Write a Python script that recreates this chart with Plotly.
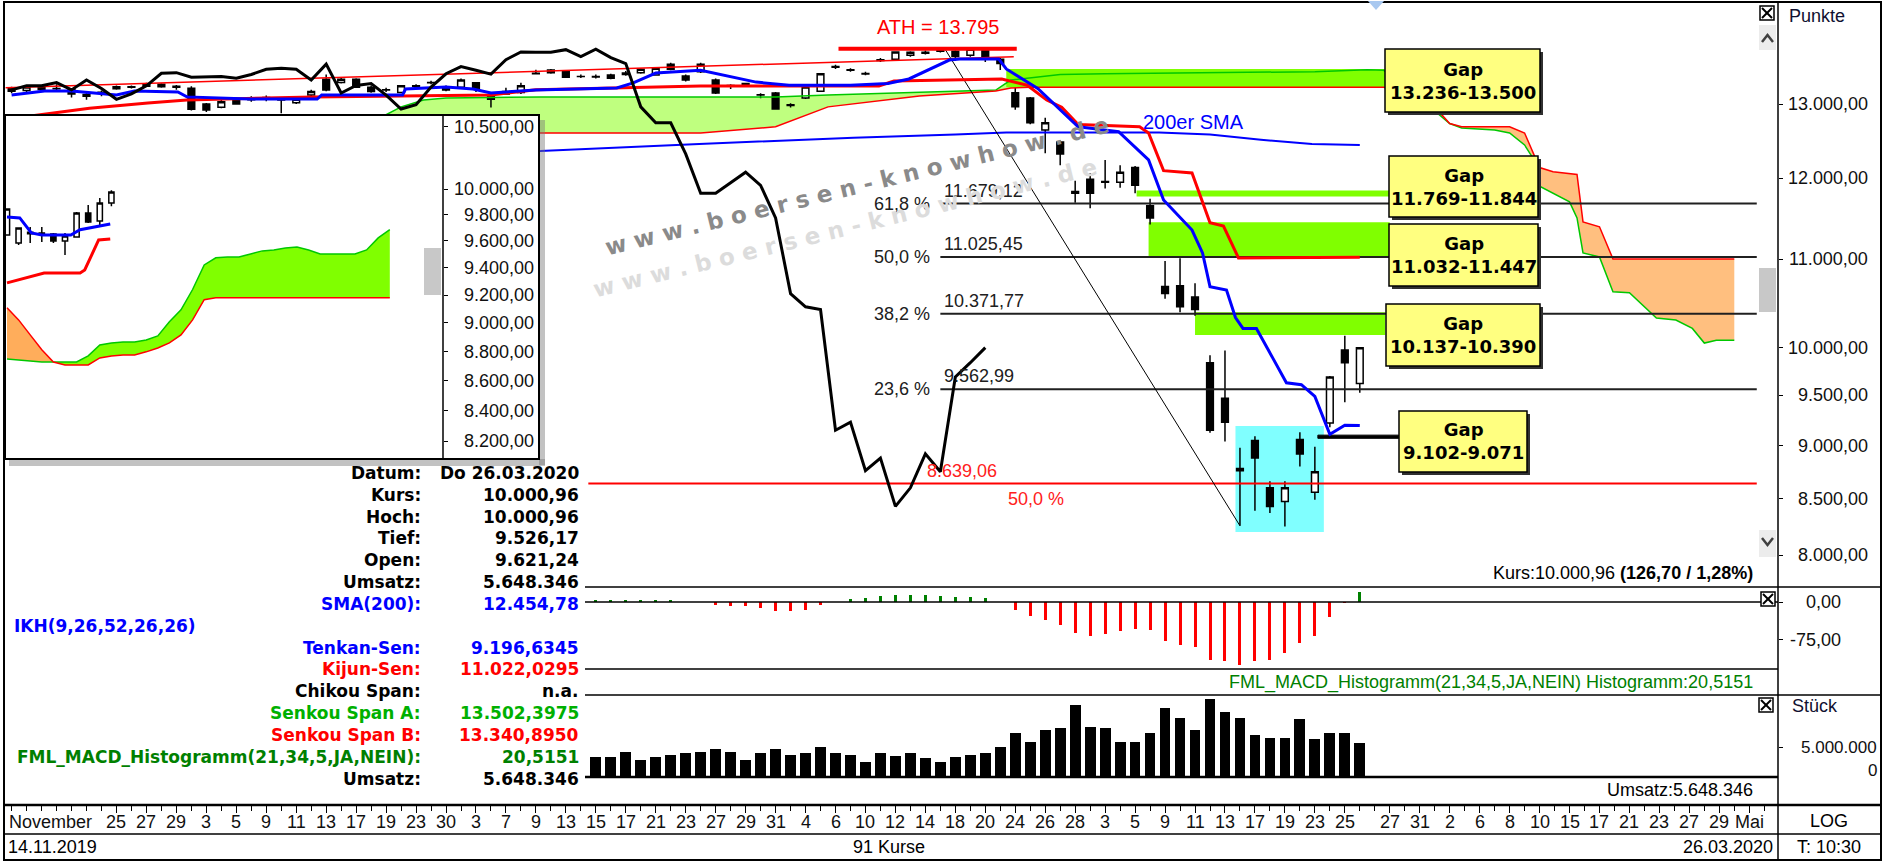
import math
import plotly.graph_objects as go

W, H = 1883, 862


def px(x):
    return x / W


def py(y):
    return 1 - y / H


LIB = "Liberation Sans, Arial, sans-serif"
DJV = "DejaVu Sans, Verdana, sans-serif"

# ------------------------------------------------------------------ data
# trading-day index 0..90 = 14.11.2019 .. 26.03.2020 (91 Kurse)
days = list(range(91))
opens = [13230, 13190, 13235, 13220, 13210, 13110, 13150, 13215, 13245, 13250,
         13280, 13250, 13224, 13000, 12954, 13066, 13060, 13090, 13060, 13019,
         13127, 13351, 13303, 13351, 13238, 13200, 13161, 13250, 13300, 13238,
         13238, 13300, 13103, 13175, 13161, 13430, 13485, 13475, 13390, 13385,
         13413, 13440, 13446, 13413, 13567, 13398, 13460, 13341, 13250, 13280,
         13130, 13155, 12980, 13085, 13180, 13525, 13490, 13435, 13625, 13640,
         13700, 13730, 13760, 13760, 13700, 13780, 13640, 13160, 13085, 12640,
         12480, 11830, 11990, 11960, 11950, 12140, 11650, 10680, 10690, 10560,
         9840, 9470, 8780, 9050, 8600, 8475, 9060, 8560, 9222, 9975, 9621.24]
highs = [13245, 13250, 13260, 13280, 13225, 13160, 13190, 13260, 13262, 13300,
         13292, 13270, 13250, 13015, 13060, 13090, 13110, 13120, 13090, 13090,
         13200, 13420, 13380, 13365, 13260, 13230, 13270, 13280, 13330, 13260,
         13360, 13310, 13140, 13230, 13300, 13490, 13500, 13480, 13420, 13420,
         13430, 13470, 13510, 13520, 13590, 13420, 13590, 13360, 13280, 13300,
         13150, 13170, 13010, 13250, 13440, 13560, 13510, 13460, 13660, 13760,
         13760, 13770, 13790, 13775, 13795, 13790, 13660, 13230, 13100, 12810,
         12500, 11970, 12070, 12240, 12170, 12160, 11740, 10980, 11010, 10720,
         9920, 9970, 8980, 9090, 8660, 8660, 9130, 8990, 9700, 10130, 10000.96]
lows = [13150, 13170, 13190, 13195, 13090, 13060, 13110, 13200, 13220, 13240,
        13230, 13200, 12910, 12890, 12940, 12990, 13030, 13040, 12871, 13000,
        13110, 13180, 13290, 13230, 13160, 13170, 13150, 13230, 13280, 13180,
        13230, 13170, 12950, 13130, 13140, 13420, 13430, 13370, 13370, 13360,
        13350, 13400, 13430, 13400, 13480, 13320, 13440, 13140, 13210, 13260,
        13080, 12920, 12950, 13070, 13170, 13500, 13460, 13410, 13600, 13620,
        13680, 13710, 13740, 13620, 13680, 13600, 13485, 12920, 12720, 12330,
        12170, 11690, 11620, 11870, 11880, 11810, 11420, 10540, 10390, 10350,
        9125, 9040, 8256, 8390, 8370, 8250, 8800, 8490, 9180, 9430, 9526.17]
closes = [13180, 13240, 13205, 13215, 13140, 13135, 13165, 13245, 13235, 13285,
          13245, 13236, 12925, 12917, 13032, 13000, 13066, 13080, 13056, 13066,
          13175, 13199, 13351, 13238, 13175, 13199, 13257, 13257, 13303, 13199,
          13341, 13219, 13066, 13142, 13257, 13437, 13446, 13380, 13389, 13389,
          13365, 13420, 13495, 13509, 13495, 13341, 13570, 13155, 13262, 13290,
          13125, 12930, 12990, 13240, 13430, 13535, 13480, 13425, 13635, 13749,
          13745, 13744, 13783, 13681, 13789, 13665, 13579, 12960, 12740, 12740,
          12320, 11810, 11810, 11950, 12080, 11910, 11500, 10600, 10450, 10420,
          9150, 9230, 8760, 8880, 8430, 8600, 8920, 8750, 9690, 9840, 10000.96]

# Ichimoku lines (index, Punkte)
tenkan_x = [0, 2.2, 4, 7, 8.2, 11.1, 11.7, 15.9, 20.4, 20.7, 26.1, 26.3, 29, 30.8, 32,
            35, 40.4, 41.5, 43, 46, 49.7, 51.9, 56, 58.5, 59.9, 62.6, 63.3, 65.9, 66.4,
            68.5, 71.2, 73.9, 75.9, 76.9, 78.8, 79.5, 80, 81.1, 81.7, 82.2, 83.1, 85.1,
            86.1, 87, 88, 89, 90]
tenkan_y = [13127, 13183, 13183, 13127, 13183, 13169, 13100, 13070, 13070, 13127, 13127,
            13211, 13240, 13211, 13155, 13197, 13226, 13298, 13440, 13480, 13310, 13265,
            13265, 13290, 13355, 13630, 13645, 13645, 13500, 13220, 12685, 12620, 12240,
            11724, 11350, 11075, 10680, 10640, 10330, 10210, 10210, 9630, 9610, 9490,
            9110, 9200, 9196.63]
kijun_x = [0, 2.5, 5.2, 9.1, 11.7, 20.1, 32, 35, 43.3, 46, 57.9, 58.9, 66.1, 67.8, 69.1,
           70.1, 71.2, 75.3, 75.9, 76.9, 78.8, 80, 80.9, 81.9, 90]
kijun_y = [12800, 12870, 12940, 13015, 13055, 13100, 13127, 13200, 13240, 13255, 13255,
           13325, 13355, 13265, 13055, 12955, 12715, 12685, 12600, 12100, 12070, 11440,
           11400, 11015, 11022.03]
chikou_shift = 25

cloud_x = [0, 10, 20, 25, 26, 27.5, 29, 35.3, 46, 51, 54.5, 60.6, 65.7, 66.7, 68, 70, 73,
           80, 87, 90.5, 91.6, 93, 94.5, 95.3, 96, 96.8, 99, 100, 101, 101.6, 102, 102.9,
           104, 104.5, 104.9, 106, 106.9, 108, 109.8, 111.1, 112.2, 113, 113.8, 115]
span_a = [12700, 12720, 12780, 12850, 12960, 13055, 13085, 13100, 13100, 13100, 13127,
          13170, 13197, 13340, 13370, 13420, 13430, 13440, 13460, 13490, 13480, 13250,
          12980, 12850, 12730, 12670, 12640, 12600, 12440, 12250, 11900, 11810, 11700,
          11500, 11075, 11027, 10620, 10610, 10325, 10303, 10210, 10050, 10080, 10080]
span_b = [12400, 12450, 12500, 12540, 12550, 12560, 12570, 12600, 12600, 12685, 12960,
          13113, 13183, 13225, 13236, 13236, 13236, 13236, 13236, 13236, 13236, 13150,
          13000, 12890, 12730, 12685, 12685, 12685, 12600, 12310, 12140, 12085, 12055,
          12050, 11450, 11390, 11003, 11003, 11003, 11003, 11003, 11003, 11003, 11003]

sma_x = [0, 35.3, 45.9, 56.2, 63, 66.4, 76.6, 80, 83.4, 86.8, 90]
sma_y = [12250, 12358, 12453, 12537, 12579, 12607, 12607, 12579, 12509, 12453, 12440]

trend_x = [-0.4, 66.9]
trend_y = [13230, 13680]
ath_x = [55.2, 67.1]
ath_value = 13795

fib_x = [62.0, 116.5]
fib_levels = [11679.12, 11025.45, 10371.77, 9562.99]
fib_pct = ["61,8 %", "50,0 %", "38,2 %", "23,6 %"]
fib_text = ["11.679,12", "11.025,45", "10.371,77", "9.562,99"]
fib_diag_x = [62.3, 82]
fib_diag_y = [13795, 8255.65]
red_level = 8639.06
red_x = [38.5, 116.5]

gap_lo = [13236, 11769, 11032, 10137]
gap_hi = [13500, 11844, 11447, 10390]
gap_x0 = [66.4, 75.1, 75.9, 79.0]
gap_x1 = [91.7, 92.0, 92.0, 91.7]
gap5 = (87.2, 92.6, 9071, 9102)
gap_labels = ["Gap<br>13.236-13.500", "Gap<br>11.769-11.844", "Gap<br>11.032-11.447",
              "Gap<br>10.137-10.390", "Gap<br>9.102-9.071"]
cyan_box = (81.7, 87.6, 8200, 9193)

macd_x = list(range(39, 91))
macd_vals = [2, 3, 3, 3, 3, 2, 0, 0, -5, -7, -7, -11, -17, -18, -15, -5, 0, 5, 7, 11, 13,
             13, 13, 11, 10, 9, 7, 0, -15, -27, -36, -45, -61, -67, -64, -58, -53, -55,
             -76, -85, -89, -114, -117, -125, -116, -114, -101, -80, -67, -30, -1, 20.5151]
vol_x = list(range(39, 91))
vol_vals = [3330000, 3330000, 4200000, 2760000, 3330000, 3600000, 3900000, 4200000,
            4660000, 4200000, 2760000, 3900000, 4660000, 3600000, 3900000, 4940000,
            4000000, 3600000, 2470000, 4000000, 3500000, 4000000, 3050000, 2470000,
            3330000, 3600000, 3900000, 4940000, 7360000, 5800000, 7930000, 8200000,
            12240000, 8400000, 8200000, 5900000, 5900000, 7360000, 11670000, 10060000,
            7930000, 13270000, 11100000, 9940000, 7070000, 6500000, 6500000, 9770000,
            6320000, 7360000, 7360000, 5648346]

price_ticks = [8000, 8500, 9000, 9500, 10000, 11000, 12000, 13000]
price_ticktext = ["8.000,00", "8.500,00", "9.000,00", "9.500,00", "10.000,00",
                  "11.000,00", "12.000,00", "13.000,00"]

tick_pos = [2.6, 7, 9, 11, 13, 15, 17, 19, 21, 23, 25, 27, 29, 31, 33, 35, 37, 39, 41, 43,
            45, 47, 49, 51, 53, 55, 57, 59, 61, 63, 65, 67, 69, 71, 73, 75, 77, 79, 81,
            83, 85, 87, 89, 92, 94, 96, 98, 100, 102, 104, 106, 108, 110, 112, 114, 116]
tick_text = ["November", "25", "27", "29", "3", "5", "9", "11", "13", "17", "19", "23",
             "30", "3", "7", "9", "13", "15", "17", "21", "23", "27", "29", "31", "4",
             "6", "10", "12", "14", "18", "20", "24", "26", "28", "3", "5", "9", "11",
             "13", "17", "19", "23", "25", "27", "31", "2", "6", "8", "10", "15", "17",
             "21", "23", "27", "29", "Mai"]

# inset (pasted zoom chart, top left)
inset_k = list(range(10))
inset_open = [9645, 9585, 9665, 9660, 9652, 9600, 9630, 9813, 9751, 9891]
inset_high = [9850, 9700, 9705, 9705, 9660, 9660, 9820, 9875, 9930, 9990]
inset_low = [9640, 9570, 9585, 9592, 9585, 9495, 9625, 9736, 9720, 9866]
inset_close = [9844, 9698, 9655, 9650, 9600, 9637, 9813, 9744, 9891, 9977]
inset_tenkan_x = [0, 1.1, 2.1, 3, 5.5, 6.3, 8.9]
inset_tenkan_y = [9782, 9775, 9660, 9645, 9645, 9685, 9728]
inset_kijun_x = [0, 3.2, 6.3, 6.7, 7.9, 8.9]
inset_kijun_y = [9288, 9361, 9361, 9383, 9607, 9615]
inset_cloud_k = list(range(34))
inset_span_a = [8749, 8742, 8735, 8728, 8728, 8728, 8728, 8770, 8846, 8860, 8867, 8867,
                8881, 8909, 9008, 9094, 9240, 9420, 9473, 9480, 9480, 9502, 9525, 9532,
                9547, 9554, 9532, 9502, 9502, 9502, 9502, 9532, 9623, 9685]
inset_span_b = [9108, 9022, 8916, 8812, 8728, 8708, 8708, 8708, 8756, 8770, 8777, 8777,
                8798, 8825, 8860, 8916, 9022, 9166, 9180, 9180, 9180, 9180, 9180, 9180,
                9180, 9180, 9180, 9180, 9180, 9180, 9180, 9180, 9180, 9180]
inset_ticks = [8200, 8400, 8600, 8800, 9000, 9200, 9400, 9600, 9800, 10000, 10500]
inset_ticktext = ["8.200,00", "8.400,00", "8.600,00", "8.800,00", "9.000,00", "9.200,00",
                  "9.400,00", "9.600,00", "9.800,00", "10.000,00", "10.500,00"]

table_rows = [("Datum:", "Do 26.03.2020", "black"), ("Kurs:", "10.000,96", "black"),
              ("Hoch:", "10.000,96", "black"), ("Tief:", "9.526,17", "black"),
              ("Open:", "9.621,24", "black"), ("Umsatz:", "5.648.346", "black"),
              ("SMA(200):", "12.454,78", "#0000ff"), ("", "", "#0000ff"),
              ("Tenkan-Sen:", "9.196,6345", "#0000ff"), ("Kijun-Sen:", "11.022,0295", "#ff0000"),
              ("Chikou Span:", "n.a.", "black"), ("Senkou Span A:", "13.502,3975", "#00b000"),
              ("Senkou Span B:", "13.340,8950", "#ff0000"),
              ("FML_MACD_Histogramm(21,34,5,JA,NEIN):", "20,5151", "#008000"),
              ("Umsatz:", "5.648.346", "black")]

# ------------------------------------------------------------------ figure
fig = go.Figure()

# cloud fill (base subplot, below candles)
upper = [max(a, b) for a, b in zip(span_a, span_b)]
fig.add_trace(go.Scatter(x=cloud_x, y=span_b, mode='lines', line=dict(width=0),
                         xaxis='x', yaxis='y', hoverinfo='skip'))
fig.add_trace(go.Scatter(x=cloud_x, y=upper, mode='lines', line=dict(width=0),
                         fill='tonexty', fillcolor='rgba(128,255,0,0.5)',
                         xaxis='x', yaxis='y', hoverinfo='skip'))
fig.add_trace(go.Scatter(x=cloud_x, y=span_a, mode='lines', line=dict(width=0),
                         xaxis='x', yaxis='y', hoverinfo='skip'))
fig.add_trace(go.Scatter(x=cloud_x, y=upper, mode='lines', line=dict(width=0),
                         fill='tonexty', fillcolor='rgba(255,128,0,0.5)',
                         xaxis='x', yaxis='y', hoverinfo='skip'))

# overlay: candles and lines
ov = dict(xaxis='x', yaxis='y5', hoverinfo='skip')
fig.add_trace(go.Scatter(x=cloud_x, y=span_a, mode='lines', line=dict(color='#00c800', width=1.5), **ov))
fig.add_trace(go.Scatter(x=cloud_x, y=span_b, mode='lines', line=dict(color='#ff0000', width=1.5), **ov))
fig.add_trace(go.Scatter(x=sma_x, y=sma_y, mode='lines', line=dict(color='#0000ff', width=2), **ov))
fig.add_trace(go.Scatter(x=trend_x, y=trend_y, mode='lines', line=dict(color='#ff0000', width=1.5), **ov))
for lv in fib_levels:
    fig.add_trace(go.Scatter(x=fib_x, y=[lv, lv], mode='lines', line=dict(color='#202020', width=2), **ov))
fig.add_trace(go.Scatter(x=red_x, y=[red_level, red_level], mode='lines',
                         line=dict(color='#ff0000', width=2), **ov))
fig.add_trace(go.Scatter(x=fib_diag_x, y=fib_diag_y, mode='lines', line=dict(color='black', width=1), **ov))
fig.add_trace(go.Candlestick(x=days, open=opens, high=highs, low=lows, close=closes,
                             increasing=dict(fillcolor='white', line=dict(color='black', width=1.5)),
                             decreasing=dict(fillcolor='black', line=dict(color='black', width=1.5)),
                             whiskerwidth=0, xaxis='x', yaxis='y5', hoverinfo='skip'))
fig.add_trace(go.Scatter(x=kijun_x, y=kijun_y, mode='lines', line=dict(color='#ff0000', width=3), **ov))
fig.add_trace(go.Scatter(x=tenkan_x, y=tenkan_y, mode='lines', line=dict(color='#0000ff', width=3), **ov))
fig.add_trace(go.Scatter(x=[d - chikou_shift for d in days[chikou_shift:]], y=closes[chikou_shift:],
                         mode='lines', line=dict(color='black', width=3), **ov))
fig.add_trace(go.Scatter(x=ath_x, y=[ath_value, ath_value], mode='lines',
                         line=dict(color='#ff0000', width=4), **ov))

# MACD histogram
fig.add_trace(go.Bar(x=macd_x, y=macd_vals, width=0.2,
                     marker=dict(color=['#008000' if v > 0 else '#ff0000' for v in macd_vals], line=dict(width=0)),
                     xaxis='x', yaxis='y2', hoverinfo='skip'))
# volume
fig.add_trace(go.Bar(x=vol_x, y=vol_vals, width=0.72, marker=dict(color='black', line=dict(width=0)),
                     xaxis='x', yaxis='y3', hoverinfo='skip'))

# inset
fig.add_trace(go.Scatter(x=[-2, 50, 50, -2, -2], y=[7900, 7900, 10800, 10800, 7900], mode='lines',
                         fill='toself', fillcolor='white', line=dict(width=0),
                         xaxis='x2', yaxis='y4', hoverinfo='skip'))
inset_upper = [max(a, b) for a, b in zip(inset_span_a, inset_span_b)]
fig.add_trace(go.Scatter(x=inset_cloud_k, y=inset_span_b, mode='lines', line=dict(width=0),
                         xaxis='x2', yaxis='y4', hoverinfo='skip'))
fig.add_trace(go.Scatter(x=inset_cloud_k, y=inset_upper, mode='lines', line=dict(width=0),
                         fill='tonexty', fillcolor='#80ff00', xaxis='x2', yaxis='y4', hoverinfo='skip'))
fig.add_trace(go.Scatter(x=inset_cloud_k, y=inset_span_a, mode='lines', line=dict(width=0),
                         xaxis='x2', yaxis='y4', hoverinfo='skip'))
fig.add_trace(go.Scatter(x=inset_cloud_k, y=inset_upper, mode='lines', line=dict(width=0),
                         fill='tonexty', fillcolor='#ffad5b', xaxis='x2', yaxis='y4', hoverinfo='skip'))
iv = dict(xaxis='x2', yaxis='y6', hoverinfo='skip')
fig.add_trace(go.Scatter(x=inset_cloud_k, y=inset_span_a, mode='lines', line=dict(color='#00c800', width=1.5), **iv))
fig.add_trace(go.Scatter(x=inset_cloud_k, y=inset_span_b, mode='lines', line=dict(color='#ff0000', width=1.5), **iv))
fig.add_trace(go.Candlestick(x=inset_k, open=inset_open, high=inset_high, low=inset_low, close=inset_close,
                             increasing=dict(fillcolor='white', line=dict(color='black', width=1.5)),
                             decreasing=dict(fillcolor='black', line=dict(color='black', width=1.5)),
                             whiskerwidth=0, xaxis='x2', yaxis='y6', hoverinfo='skip'))
fig.add_trace(go.Scatter(x=inset_kijun_x, y=inset_kijun_y, mode='lines', line=dict(color='#ff0000', width=3), **iv))
fig.add_trace(go.Scatter(x=inset_tenkan_x, y=inset_tenkan_y, mode='lines', line=dict(color='#0000ff', width=3), **iv))

# ------------------------------------------------------------------ shapes
shapes = []


def rect_px(x0, y0, x1, y1, fill=None, line='black', lw=1, layer='above'):
    shapes.append(dict(type='rect', xref='paper', yref='paper', x0=px(x0), x1=px(x1),
                       y0=py(y1), y1=py(y0), fillcolor=fill or 'rgba(0,0,0,0)',
                       line=dict(color=line, width=lw), layer=layer))


def line_px(x0, y0, x1, y1, color='black', lw=1.5):
    shapes.append(dict(type='line', xref='paper', yref='paper', x0=px(x0), x1=px(x1),
                       y0=py(y0), y1=py(y1), line=dict(color=color, width=lw), layer='above'))


# data shapes (below traces)
for lo, hi, a, b in zip(gap_lo, gap_hi, gap_x0, gap_x1):
    shapes.append(dict(type='rect', xref='x', yref='y', x0=a, x1=b, y0=lo, y1=hi,
                       fillcolor='#80ff00', line=dict(width=0), layer='below'))
shapes.append(dict(type='rect', xref='x', yref='y', x0=cyan_box[0], x1=cyan_box[1],
                   y0=cyan_box[2], y1=cyan_box[3], fillcolor='#80ffff', line=dict(width=0), layer='below'))
shapes.append(dict(type='rect', xref='x', yref='y', x0=gap5[0], x1=gap5[1], y0=gap5[2], y1=gap5[3],
                   fillcolor='black', line=dict(color='black', width=1), layer='below'))

# frame and panel lines
rect_px(4, 2, 1881, 860, lw=2)
line_px(1778, 2, 1778, 860)
line_px(585, 587, 1881, 587)
line_px(585, 602, 1778, 602)
line_px(585, 669, 1778, 669)
line_px(585, 695, 1881, 695)
line_px(585, 777, 1778, 777, lw=2.5)
line_px(4, 805, 1881, 805, lw=2.5)
line_px(4, 834, 1881, 834)

# inset frame, shadow, axis
rect_px(539, 120, 545, 465, fill='rgba(120,120,120,0.45)', line='rgba(0,0,0,0)', lw=0)
rect_px(9, 459, 545, 466, fill='rgba(120,120,120,0.45)', line='rgba(0,0,0,0)', lw=0)
rect_px(5, 115, 539, 459, lw=2)
line_px(443, 115, 443, 459)
rect_px(424, 248, 441, 295, fill='#c8c8c8', line='#c8c8c8', lw=0)

# gap label boxes
gap_boxes = [(1385, 49, 1540, 112), (1389, 156, 1538, 217), (1389, 224, 1538, 286),
             (1386, 304, 1540, 366), (1399, 411, 1527, 472)]
for (x0, y0, x1, y1) in gap_boxes:
    rect_px(x0 + 3, y0 + 3, x1 + 3, y1 + 3, fill='#303030', line='#303030', lw=0)
    rect_px(x0, y0, x1, y1, fill='#ffff80', line='black', lw=1.5)

# buttons / scroll elements
for (bx, by) in [(1760, 6), (1761, 592), (1759, 698)]:
    rect_px(bx, by, bx + 14, by + 14, fill='white', lw=1.5)
    line_px(bx + 2, by + 2, bx + 12, by + 12, lw=2)
    line_px(bx + 12, by + 2, bx + 2, by + 12, lw=2)
rect_px(1759, 25, 1776, 50, fill='#ececec', line='#ececec', lw=0)
rect_px(1759, 530, 1776, 557, fill='#ececec', line='#ececec', lw=0)
rect_px(1759, 268, 1776, 312, fill='#c8c8c8', line='#c8c8c8', lw=0)
shapes.append(dict(type='path', xref='paper', yref='paper',
                   path=f"M {px(1762)},{py(42)} L {px(1767.5)},{py(35)} L {px(1773)},{py(42)}",
                   line=dict(color='#404040', width=2.5), layer='above'))
shapes.append(dict(type='path', xref='paper', yref='paper',
                   path=f"M {px(1762)},{py(538)} L {px(1767.5)},{py(545)} L {px(1773)},{py(538)}",
                   line=dict(color='#404040', width=2.5), layer='above'))
shapes.append(dict(type='path', xref='paper', yref='paper',
                   path=f"M {px(1368)},{py(1)} L {px(1384)},{py(1)} L {px(1376)},{py(10)} Z",
                   fillcolor='#a8c8f0', line=dict(width=0), layer='above'))

# ------------------------------------------------------------------ annotations
ann = []


def text_px(x, y, s, size=18, color='black', anchor='center', family=LIB, angle=0):
    ann.append(dict(xref='paper', yref='paper', x=px(x), y=py(y), text=s, showarrow=False,
                    xanchor=anchor, yanchor='middle', textangle=angle,
                    font=dict(family=family, size=size, color=color)))


for v, t in zip(price_ticks, price_ticktext):
    ann.append(dict(xref='paper', yref='y', x=px(1870), y=math.log10(v), text=t, showarrow=False,
                    xanchor='right', yanchor='middle', font=dict(family=LIB, size=18, color='#101010')))
for v, t in zip(inset_ticks, inset_ticktext):
    ann.append(dict(xref='paper', yref='y4', x=px(536), y=math.log10(v), text=t, showarrow=False,
                    xanchor='right', yanchor='middle', font=dict(family=LIB, size=18, color='#101010')))
for v, t in [(0, "0,00"), (-75, "-75,00")]:
    ann.append(dict(xref='paper', yref='y2', x=px(1843), y=v, text=t, showarrow=False,
                    xanchor='right', yanchor='middle', font=dict(family=LIB, size=18, color='#101010')))
ann.append(dict(xref='paper', yref='y3', x=px(1879), y=5000000, text="5.000.000", showarrow=False,
                xanchor='right', yanchor='middle', font=dict(family=LIB, size=17, color='#101010')))
ann.append(dict(xref='paper', yref='y3', x=px(1879), y=0, yshift=6, text="0", showarrow=False,
                xanchor='right', yanchor='middle', font=dict(family=LIB, size=17, color='#101010')))

# date labels along the shared x axis
for p, t in zip(tick_pos, tick_text):
    ann.append(dict(xref='x', yref='paper', x=p, y=py(822), text=t, showarrow=False,
                    xanchor='center', yanchor='middle', font=dict(family=LIB, size=18, color='#101010')))

text_px(1787, 16, "Punkte", anchor='left', color='#101030')
text_px(1790, 706, "Stück", anchor='left', color='#101030')

# fib texts
for lv, p, t in zip(fib_levels, fib_pct, fib_text):
    ann.append(dict(xref='x', yref='y', x=61.45, y=math.log10(lv), text=p, showarrow=False,
                    xanchor='right', yanchor='middle', font=dict(family=LIB, size=18, color='#202020')))
    ann.append(dict(xref='x', yref='y', x=62.1, y=math.log10(lv), text=t, showarrow=False, yshift=1,
                    xanchor='left', yanchor='bottom', font=dict(family=LIB, size=18, color='#202020')))
ann.append(dict(xref='x', yref='y', x=61.0, y=math.log10(red_level), text="8.639,06", showarrow=False,
                yshift=1, xanchor='left', yanchor='bottom', font=dict(family=LIB, size=18, color='#ff2020')))
ann.append(dict(xref='x', yref='y', x=68.4, y=math.log10(red_level), text="50,0 %", showarrow=False,
                yshift=-3, xanchor='center', yanchor='top', font=dict(family=LIB, size=18, color='#ff2020')))

text_px(938, 27, "ATH = 13.795", size=20, color='#ff0000')
text_px(1193, 122, "200er SMA", size=20, color='#0000ff')

# watermark
text_px(857, 186, "<b>w w w . b o e r s e n - k n o w h o w . d e</b>", size=23, color='#8a8a8a',
        family=DJV, angle=-13.8)
text_px(845, 228, "<b>w w w . b o e r s e n - k n o w h o w . d e</b>", size=23, color='#dcdcdc',
        family=DJV, angle=-13.8)

# gap box texts
for (x0, y0, x1, y1), s in zip(gap_boxes, gap_labels):
    text_px((x0 + x1) / 2, (y0 + y1) / 2, "<b>" + s + "</b>", size=18, family=DJV)

# status texts
text_px(1755, 573, "Kurs:10.000,96 <b>(126,70 / 1,28%)</b>", anchor='right')
text_px(1755, 682, "FML_MACD_Histogramm(21,34,5,JA,NEIN) Histogramm:20,5151", anchor='right', color='#008000')
text_px(1755, 790, "Umsatz:5.648.346", anchor='right')

# data table
row_y = [473, 495, 517, 538, 560, 582, 604, 626, 648, 669, 691, 713, 735, 757, 779]
for (lab, val, col), yy in zip(table_rows, row_y):
    if lab:
        text_px(423, yy, "<b>" + lab + "</b>", size=17, color=col, anchor='right', family=DJV)
    if val:
        text_px(581, yy, "<b>" + val + "</b>", size=17, color=col, anchor='right', family=DJV)
text_px(12, 626, "<b>IKH(9,26,52,26,26)</b>", size=17, color='#0000ff', anchor='left', family=DJV)

# bottom rows
text_px(6, 847, "14.11.2019", anchor='left')
text_px(889, 847, "91 Kurse")
text_px(1775, 847, "26.03.2020", anchor='right')
text_px(1829, 821, "LOG")
text_px(1829, 847, "T: 10:30")

# ------------------------------------------------------------------ layout
main_range = [math.log10(13000) - 482 / 2139, math.log10(13000) + 100 / 2139]
inset_range = [4 - 270 / 2928, 4 + 73 / 2928]
noax = dict(showgrid=False, zeroline=False, showline=False)

fig.update_layout(
    width=W, height=H, autosize=False, margin=dict(l=0, r=0, t=0, b=0),
    paper_bgcolor='white', plot_bgcolor='white', showlegend=False, hovermode=False,
    boxgap=0.36, bargap=0,
    xaxis=dict(domain=[px(5), px(1778)], range=[(5 - 11.6) / 14.98, (1778 - 11.6) / 14.98],
               anchor='free', position=py(805), side='bottom', tickmode='array',
               tickvals=tick_pos[1:], ticks='outside', ticklen=7, tickwidth=1,
               tickcolor='black', showticklabels=False,
               minor=dict(ticks='outside', ticklen=5, dtick=1, tick0=0, tickcolor='black'),
               rangeslider=dict(visible=False), **noax),
    yaxis=dict(domain=[py(586), py(4)], type='log', range=main_range, anchor='x', side='right',
               tickmode='array', tickvals=price_ticks, ticks='outside', ticklen=4, tickcolor='black',
               showticklabels=False, **noax),
    yaxis5=dict(overlaying='y', type='log', range=main_range, anchor='x', visible=False, **noax),
    yaxis2=dict(domain=[py(669), py(587)], range=[-(669 - 602) * 1.974, (602 - 587) * 1.974],
                anchor='x', side='right', tickmode='array', tickvals=[0, -75], ticks='outside',
                ticklen=4, tickcolor='black', showticklabels=False, **noax),
    yaxis3=dict(domain=[py(777), py(695)], range=[-1 / 5.8 * 1e6, 81 / 5.8 * 1e6],
                anchor='x', side='right', tickmode='array', tickvals=[5000000], ticks='outside',
                ticklen=4, tickcolor='black', showticklabels=False, **noax),
    xaxis2=dict(domain=[px(5), px(539)], range=[(5 - 7) / 11.6, (539 - 7) / 11.6], anchor='y4',
                visible=False, rangeslider=dict(visible=False), **noax),
    yaxis4=dict(domain=[py(459), py(116)], type='log', range=inset_range, anchor='free',
                position=px(443), side='right', tickmode='array', tickvals=inset_ticks,
                ticks='outside', ticklen=4, tickcolor='black', showticklabels=False, **noax),
    yaxis6=dict(overlaying='y4', type='log', range=inset_range, anchor='x2', visible=False, **noax),
    shapes=shapes, annotations=ann,
)

fig.write_html("out.html", config={'displayModeBar': False},
               post_script="document.body.style.margin='0px';document.body.style.overflow='hidden';")
